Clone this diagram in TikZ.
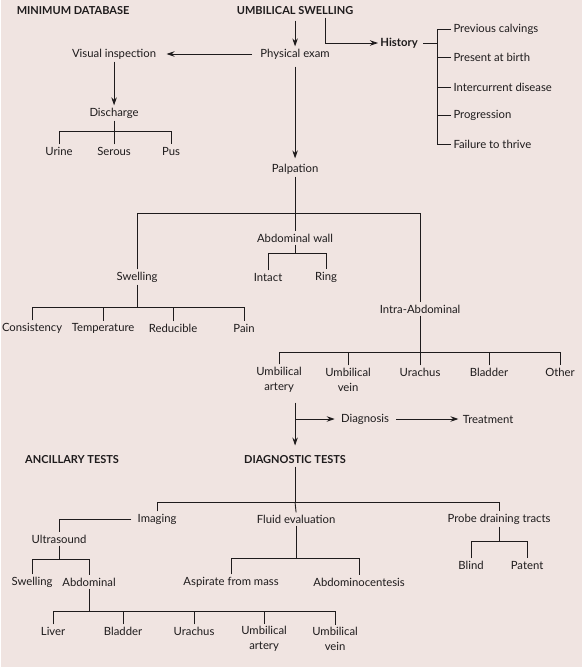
\documentclass[tikz,border=0pt]{standalone}
\usepackage{fontspec}
\setmainfont{Lato}
\usetikzlibrary{arrows.meta}
\definecolor{bgpink}{RGB}{240,228,225}
\definecolor{inkgrey}{RGB}{30,27,28}

\begin{document}
\begin{tikzpicture}[x=1pt,y=-1pt,color=inkgrey,line width=0.9pt,
  lbl/.style={inner sep=2pt,align=center,font=\fontsize{11.3}{15}\selectfont},
  hlbl/.style={inner sep=2pt,font=\fontsize{11.3}{15}\selectfont\bfseries},
  head/.style={inner sep=2pt,font=\fontsize{11}{13}\selectfont\bfseries},
  arr/.style={-{Stealth[length=8pt,width=5.5pt]}}]
\fill[bgpink] (0,0) rectangle (581,667);
% top part
\node[head] (mindb) at (72,11) {MINIMUM DATABASE};
\node[head] (umb) at (294,11) {UMBILICAL SWELLING};
\node[lbl] (phys) at (294,54) {Physical exam};
\node[hlbl] (hist) at (398,43) {History};
\node[lbl,anchor=west] (prevc) at (450,29) {Previous calvings};
\node[lbl,anchor=west] (presb) at (450,57) {Present at birth};
\node[lbl,anchor=west] (interc) at (450,87) {Intercurrent disease};
\node[lbl,anchor=west] (progr) at (450,115) {Progression};
\node[lbl,anchor=west] (fail) at (450,144) {Failure to thrive};
\node[lbl] (visual) at (113,54) {Visual inspection};
\node[lbl] (disch) at (113,113) {Discharge};
\node[lbl] (urine) at (58,151) {Urine};
\node[lbl] (serous) at (113,151) {Serous};
\node[lbl] (pus) at (170,151) {Pus};
% palpation
\node[lbl] (palp) at (294,169) {Palpation};
\node[lbl] (abdw) at (294,238) {Abdominal wall};
\node[lbl] (intact) at (267,277) {Intact};
\node[lbl] (ring) at (325,277) {Ring};
\node[lbl] (swell) at (136,277) {Swelling};
\node[lbl] (consis) at (31,328) {Consistency};
\node[lbl] (temp) at (102,328) {Temperature};
\node[lbl] (reduc) at (172,328) {Reducible};
\node[lbl] (pain) at (243,328) {Pain};
\node[lbl] (intra) at (419,309) {Intra-Abdominal};
\node[lbl] (uart) at (278,379.5) {Umbilical\\artery};
\node[lbl] (uvein) at (347,379.5) {Umbilical\\vein};
\node[lbl] (urach) at (419,372) {Urachus};
\node[lbl] (bladd) at (488,372) {Bladder};
\node[lbl] (other) at (559,372) {Other};
% tests
\node[lbl] (diagn) at (364,419) {Diagnosis};
\node[lbl] (treat) at (487,419) {Treatment};
\node[head] (ancil) at (71,460) {ANCILLARY TESTS};
\node[head] (diag) at (294,460) {DIAGNOSTIC TESTS};
\node[lbl] (imag) at (156,519) {Imaging};
\node[lbl] (fluid) at (295,519) {Fluid evaluation};
\node[lbl] (probe) at (498,519) {Probe draining tracts};
\node[lbl] (ultra) at (58,539) {Ultrasound};
\node[lbl] (uswell) at (31,582) {Swelling};
\node[lbl] (uabd) at (88,582) {Abdominal};
\node[lbl] (liver) at (52,631) {Liver};
\node[lbl] (ubladd) at (122,631) {Bladder};
\node[lbl] (uurach) at (193,631) {Urachus};
\node[lbl] (uuart) at (263,639) {Umbilical\\artery};
\node[lbl] (uuvein) at (334,639) {Umbilical\\vein};
\node[lbl] (aspir) at (230,582) {Aspirate from mass};
\node[lbl] (abdoc) at (358,582) {Abdominocentesis};
\node[lbl] (blind) at (470,565) {Blind};
\node[lbl] (patent) at (526,565) {Patent};
% connectors
\draw[arr,shorten <=3pt] (umb) -- (phys);
\draw[arr] ([xshift=30pt]umb.south) |- (hist.west);
\draw (prevc.west) -- ++(-14,0) coordinate (histbar) |- (fail.west);
\draw (presb.west) -- (presb.west -| histbar);
\draw (interc.west) -- (interc.west -| histbar);
\draw (progr.west) -- (progr.west -| histbar);
\draw[shorten <=3pt] (hist.east) -- (hist.east -| histbar);
\draw[arr,shorten <=6pt,shorten >=8pt] (phys.west) -- (visual.east);
\draw[arr] (visual) -- (disch);
\draw (disch.south) -- ++(0,11) coordinate (dischbar);
\draw (urine.north) |- (dischbar) -| (pus.north);
\draw (serous.north) -- (dischbar);
\draw[arr,shorten <=5pt,shorten >=3pt] (phys) -- (palp);
\draw (palp.south) -- ++(0,37) coordinate (palpbar);
\draw (swell.north) |- (palpbar) -| (intra.north);
\draw (palpbar) -- (abdw.north);
\draw (abdw.south) -- ++(0,9) coordinate (abdwbar);
\draw (intact.north) |- (abdwbar) -| (ring.north);
\draw (swell.south) -- ++(0,23) coordinate (swellbar);
\draw (consis.north) |- (swellbar) -| (pain.north);
\draw (temp.north) -- (temp.north |- swellbar);
\draw (reduc.north) -- (reduc.north |- swellbar);
\draw (intra.south) -- ++(0,37) coordinate (intrabar);
\draw (uart.north) |- (intrabar) -| (other.north);
\draw (uvein.north) -- (uvein.north |- intrabar);
\draw (urach.north) -- (intrabar);
\draw (bladd.north) -- (bladd.north |- intrabar);
\draw[arr,shorten >=8pt] (uart.south -| diag.north) ++(0,8) -- (diag.north);
\draw[arr,shorten >=4pt] (diagn.west -| diag.north) -- (diagn.west);
\draw[arr,shorten <=5pt,shorten >=2pt] (diagn) -- (treat);
\draw (diag.south) -- ++(0,36) coordinate (diagbar);
\draw (imag.north) |- (diagbar) -| (probe.north);
\draw (diagbar) -- (fluid.north);
\draw[shorten <=4pt] (imag.west) -| (ultra.north);
\draw (ultra.south) -- ++(0,14) coordinate (ultrabar);
\draw (uswell.north) |- (ultrabar) -| (uabd.north);
\draw (uabd.south) -- ++(0,23) coordinate (uabdbar);
\draw (liver.north) |- (uabdbar) -| (uuvein.north);
\draw (ubladd.north) -- (ubladd.north |- uabdbar);
\draw (uurach.north) -- (uurach.north |- uabdbar);
\draw (uuart.north) -- (uuart.north |- uabdbar);
\draw (fluid.south) -- ++(0,33) coordinate (fluidbar);
\draw (aspir.north) |- (fluidbar) -| (abdoc.north);
\draw (probe.south) -- ++(0,15) coordinate (probebar);
\draw (blind.north) |- (probebar) -| (patent.north);
\end{tikzpicture}
\end{document}
